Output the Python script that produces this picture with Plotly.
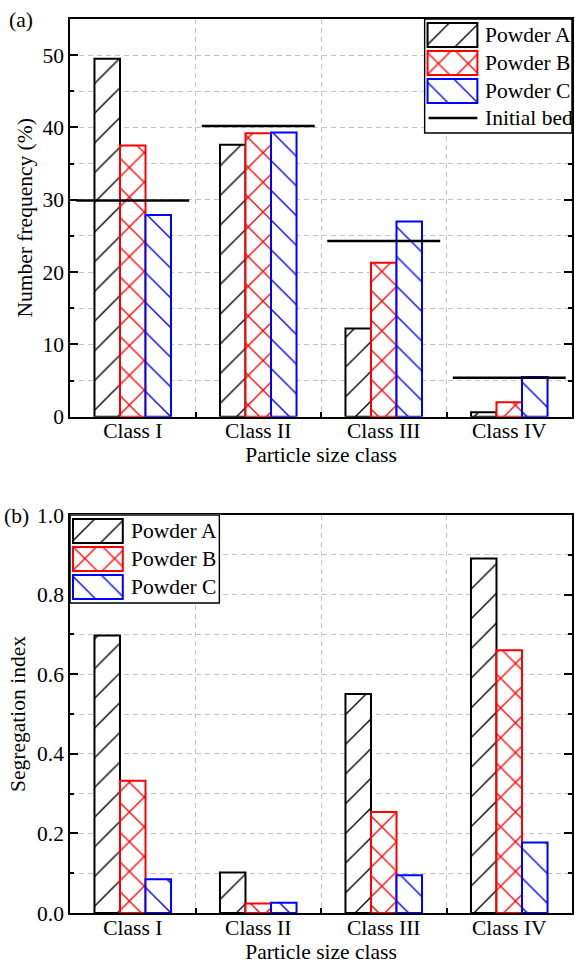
import plotly.graph_objects as go

# ---------------- data ----------------
categories = ["Class I", "Class II", "Class III", "Class IV"]
powders = ["Powder A", "Powder B", "Powder C"]
bed_label = "Initial bed"

# (a) number frequency of each size class (%)
freq_a = [49.5, 37.6, 12.2, 0.6]
freq_b = [37.5, 39.2, 21.3, 2.0]
freq_c = [27.9, 39.3, 27.0, 5.5]
initial_bed = [29.9, 40.2, 24.3, 5.4]

# (b) segregation index of each size class
seg_a = [0.697, 0.102, 0.550, 0.891]
seg_b = [0.332, 0.024, 0.254, 0.660]
seg_c = [0.085, 0.026, 0.095, 0.177]

freq_ticks = [0, 10, 20, 30, 40, 50]
seg_ticks = [0.0, 0.2, 0.4, 0.6, 0.8, 1.0]

# ---------------- styling ----------------
FONT = "Liberation Serif"
FS = 21.5
W, H = 575, 965
ML, MR, MT, MB = 70, 1, 19, 52
PW, PH = W - ML - MR, H - MT - MB

GRID = "#c4c4c4"
DASH = "5px,4px"
PAT_SIZE = 21

# hatch styles; solidity chosen so every hatch line is ~1.4 px wide
styles = [
    dict(color="black", shape="/", solidity=0.066),
    dict(color="red", shape="x", solidity=0.125),
    dict(color="blue", shape="\\", solidity=0.066),
]


def px_x(px):
    return (px - ML) / PW


def px_y(py):
    return (H - MB - py) / PH


def clamp(v):
    return min(1.0, max(0.0, v))


def pattern_marker(st):
    return dict(
        color="white",
        line=dict(color=st["color"], width=2),
        pattern=dict(shape=st["shape"], fgcolor=st["color"], fgopacity=1,
                     bgcolor="white", size=PAT_SIZE, solidity=st["solidity"]),
    )


fig = go.Figure()

x_pos = list(range(len(categories)))

# ---------------- bars ----------------
for vals_top, vals_bot, name, st in zip(
    [freq_a, freq_b, freq_c], [seg_a, seg_b, seg_c], powders, styles
):
    for vals, xa, ya in [(vals_top, "x", "y"), (vals_bot, "x2", "y2")]:
        fig.add_trace(go.Bar(
            x=x_pos, y=vals, name=name, xaxis=xa, yaxis=ya, showlegend=False,
            marker=pattern_marker(st),
        ))

# initial bed composition: one horizontal segment across each class
bed_x, bed_y = [], []
half = 0.45
for i, v in enumerate(initial_bed):
    bed_x += [i - half, i + half, None]
    bed_y += [v, v, None]
fig.add_trace(go.Scatter(
    x=bed_x, y=bed_y, mode="lines", name=bed_label, showlegend=False,
    line=dict(color="black", width=2.5), xaxis="x", yaxis="y",
))

# ---------------- hand-drawn legends (own small axes, pixel units) ----------------
BOX_ROWS = [4, 32, 60]     # top of each swatch row inside the box
ROW_H = 24
SW_X0, SW_W = 3, 50
TXT_X = 59
LINE_ROW = 99


def add_legend(idx, bx0, by0, bx1, by1, with_line):
    xa, ya = f"x{idx}", f"y{idx}"
    dx0, dx1 = bx0 - 1, bx1 + 1
    dy0, dy1 = by0 - 1, by1 + 1
    d_x = [clamp(px_x(dx0)), clamp(px_x(dx1))]
    d_y = [clamp(px_y(dy1)), clamp(px_y(dy0))]
    # convert clamped domain back to pixel span for the axis range
    rx0 = ML + d_x[0] * PW - bx0
    rx1 = ML + d_x[1] * PW - bx0
    ry_top = (H - MB - d_y[1] * PH) - by0
    ry_bot = (H - MB - d_y[0] * PH) - by0
    fig.update_layout({
        f"xaxis{idx}": dict(domain=d_x, range=[rx0, rx1], visible=False,
                            fixedrange=True, anchor=ya),
        f"yaxis{idx}": dict(domain=d_y, range=[ry_bot, ry_top], visible=False,
                            fixedrange=True, anchor=xa),
    })
    bw, bh = bx1 - bx0, by1 - by0
    # frame
    fig.add_trace(go.Bar(
        y=[0], x=[bw], base=[0], orientation="h", width=[bh], offset=0,
        xaxis=xa, yaxis=ya, showlegend=False, hoverinfo="skip",
        marker=dict(color="white", line=dict(color="black", width=1.5)),
    ))
    for row, name, st in zip(BOX_ROWS, powders, styles):
        fig.add_trace(go.Bar(
            y=[row], x=[SW_W], base=[SW_X0], orientation="h", width=[ROW_H],
            offset=0, xaxis=xa, yaxis=ya, showlegend=False, hoverinfo="skip",
            marker=pattern_marker(st),
        ))
        fig.add_annotation(x=TXT_X, y=row + ROW_H / 2, xref=xa, yref=ya,
                           text=name, showarrow=False, xanchor="left",
                           yanchor="middle", font=dict(family=FONT, size=FS, color="black"))
    if with_line:
        fig.add_trace(go.Scatter(
            x=[SW_X0 + 1, SW_X0 + SW_W], y=[LINE_ROW, LINE_ROW], mode="lines",
            xaxis=xa, yaxis=ya, showlegend=False, hoverinfo="skip",
            line=dict(color="black", width=2.5),
        ))
        fig.add_annotation(x=TXT_X, y=LINE_ROW, xref=xa, yref=ya,
                           text=bed_label, showarrow=False, xanchor="left",
                           yanchor="middle", font=dict(family=FONT, size=FS, color="black"))


add_legend(3, 426, 19, 574, 133, True)
add_legend(4, 70, 515, 220, 603, False)

# ---------------- axes ----------------
top_dom = [px_y(416.7), 1.0]
bot_dom = [0.0, px_y(515)]

tickfont = dict(family=FONT, size=FS, color="black")


def xaxis_style(anchor):
    return dict(
        anchor=anchor, domain=[0, 1], range=[-0.5, 3.5],
        tickmode="array", tickvals=x_pos, ticktext=categories,
        ticks="", showgrid=False, zeroline=False, ticklabelstandoff=-6,
        showline=True, linecolor="black", linewidth=1.5, mirror=True,
        tickfont=tickfont,
        minor=dict(tickmode="array", tickvals=[0.5, 1.5, 2.5], ticks="inside",
                   ticklen=5, tickwidth=1.5, tickcolor="black",
                   showgrid=True, gridcolor=GRID, griddash=DASH, gridwidth=1),
        title=dict(text="Particle size class", font=tickfont, standoff=0),
        fixedrange=True,
    )


def yaxis_style(anchor, dom, rng, ticks, minor_dtick, fmt, title, standoff):
    return dict(
        anchor=anchor, domain=dom, range=rng,
        tickmode="array", tickvals=ticks, tickformat=fmt,
        ticks="inside", ticklen=8, tickwidth=1.5, tickcolor="black",
        showgrid=True, gridcolor=GRID, griddash=DASH, gridwidth=1,
        zeroline=False, showline=True, linecolor="black", linewidth=1.5,
        mirror="allticks", tickfont=tickfont,
        minor=dict(dtick=minor_dtick, tick0=0, ticks="inside", ticklen=4,
                   tickwidth=1.5, tickcolor="black",
                   showgrid=True, gridcolor=GRID, griddash=DASH, gridwidth=1),
        title=dict(text=title, font=tickfont, standoff=standoff),
        fixedrange=True,
    )


fig.update_layout(
    width=W, height=H,
    margin=dict(l=ML, r=MR, t=MT, b=MB, pad=0),
    paper_bgcolor="white", plot_bgcolor="white",
    barmode="group", bargap=0.39, bargroupgap=0,
    font=dict(family=FONT, size=FS, color="black"),
    showlegend=False,
    xaxis=xaxis_style("y"),
    yaxis=yaxis_style("x", top_dom, [0, 55], freq_ticks, 5, "d",
                      "Number frequency (%)", 4),
    xaxis2=xaxis_style("y2"),
    yaxis2=yaxis_style("x2", bot_dom, [0, 1.0], seg_ticks, 0.1, ".1f",
                       "Segregation index", 6),
)

# panel letters
for letter, px, py in [("(a)", 21, 20), ("(b)", 16, 516)]:
    fig.add_annotation(x=px_x(px), y=px_y(py), xref="paper", yref="paper",
                       text=letter, showarrow=False, xanchor="center",
                       yanchor="middle", font=dict(family=FONT, size=FS, color="black"))

fig.write_html("out.html")
